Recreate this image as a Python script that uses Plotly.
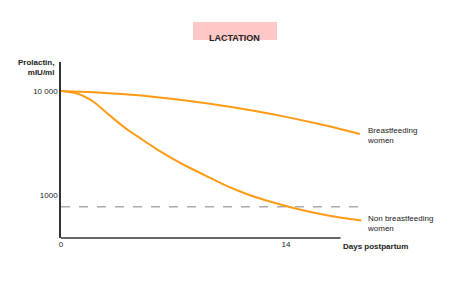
import plotly.graph_objects as go

# Days postpartum and prolactin (mIU/ml)
bf_days = [0, 2, 4, 6, 8, 10, 12, 14, 16, 18, 18.6]
bf_prl = [10000, 9723, 9286, 8710, 8025, 7266, 6463, 5643, 4844, 4082, 3865]

nbf_days = [0, 1, 2, 3, 4, 5, 6, 7, 8, 9, 10, 11, 12, 13, 14, 15, 16, 17, 18, 18.7]
nbf_prl = [10000, 9462, 7925, 5877, 4409, 3455, 2738, 2220, 1830, 1540, 1290, 1105,
           967, 866, 784, 717, 664, 621, 588, 569]

ref_days = [0, 18.8]
ref_prl = [770, 770]

x_ticks = [0, 14]
x_ticklabels = ["0", "14"]
y_ticks = [1000, 10000]
y_ticklabels = ["1000", "10 000"]

ORANGE = "#FF9A14"
FONT = "Liberation Sans, Arial, sans-serif"
DARK = "#222222"

fig = go.Figure()
fig.add_trace(go.Scatter(x=ref_days, y=ref_prl, mode="lines",
                         line=dict(color="#AAAAAA", width=1.5, dash="dash"),
                         hoverinfo="skip"))
fig.add_trace(go.Scatter(x=bf_days, y=bf_prl, mode="lines",
                         line=dict(color=ORANGE, width=2, shape="spline", smoothing=0.8)))
fig.add_trace(go.Scatter(x=nbf_days, y=nbf_prl, mode="lines",
                         line=dict(color=ORANGE, width=2, shape="spline", smoothing=0.8)))

fig.update_layout(
    width=450, height=302,
    margin=dict(l=61, r=87, t=62, b=64),
    paper_bgcolor="white", plot_bgcolor="white",
    showlegend=False,
    font=dict(family=FONT, size=8, color=DARK),
    xaxis=dict(range=[0, 18.8], showgrid=False, zeroline=False, showline=False,
               tickvals=x_ticks, ticktext=x_ticklabels, ticks="", ticklen=0,
               tickfont=dict(size=8, color=DARK)),
    yaxis=dict(type="log", range=[2.587, 4.279], showgrid=False, zeroline=False,
               showline=True, linecolor="#333333", linewidth=1.5,
               tickvals=y_ticks, ticktext=y_ticklabels, ticks="", ticklen=0,
               tickfont=dict(size=8, color=DARK)),
)

# x axis line (stops before the curves' end)
fig.add_shape(type="line", xref="x", yref="paper", x0=0, x1=17.4, y0=0, y1=0,
              line=dict(color="#333333", width=1.5))

# Title box
fig.add_shape(type="rect", xref="paper", yref="paper",
              x0=(193 - 61) / 302, x1=(277 - 61) / 302,
              y0=(238 - 40) / 176, y1=(238 - 22) / 176,
              fillcolor="#FFC8C8", line=dict(width=0), layer="below")
fig.add_annotation(xref="paper", yref="paper", x=(235 - 61) / 302, y=(238 - 31) / 176,
                   text="<b>LACTATION</b>", showarrow=False,
                   font=dict(size=9, color=DARK, family=FONT))

# Y axis title
fig.add_annotation(xref="paper", yref="paper", x=(56 - 61) / 302, y=(238 - 67) / 176,
                   xanchor="right", yanchor="middle", align="right",
                   text="<b>Prolactin,</b><br><b>mIU/ml</b>", showarrow=False,
                   font=dict(size=8, color=DARK, family=FONT))

# X axis title
fig.add_annotation(xref="paper", yref="paper", x=(341 - 61) / 302, y=(238 - 246) / 176,
                   xanchor="left", yanchor="middle",
                   text="<b>Days postpartum</b>", showarrow=False,
                   font=dict(size=8, color=DARK, family=FONT))

# Curve labels
fig.add_annotation(xref="paper", yref="paper", x=(365 - 61) / 302, y=(238 - 135) / 176,
                   xanchor="left", yanchor="middle", align="left",
                   text="Breastfeeding<br>women", showarrow=False,
                   font=dict(size=8, color=DARK, family=FONT))
fig.add_annotation(xref="paper", yref="paper", x=(365 - 61) / 302, y=(238 - 223) / 176,
                   xanchor="left", yanchor="middle", align="left",
                   text="Non breastfeeding<br>women", showarrow=False,
                   font=dict(size=8, color=DARK, family=FONT))

fig.write_html("out.html")
